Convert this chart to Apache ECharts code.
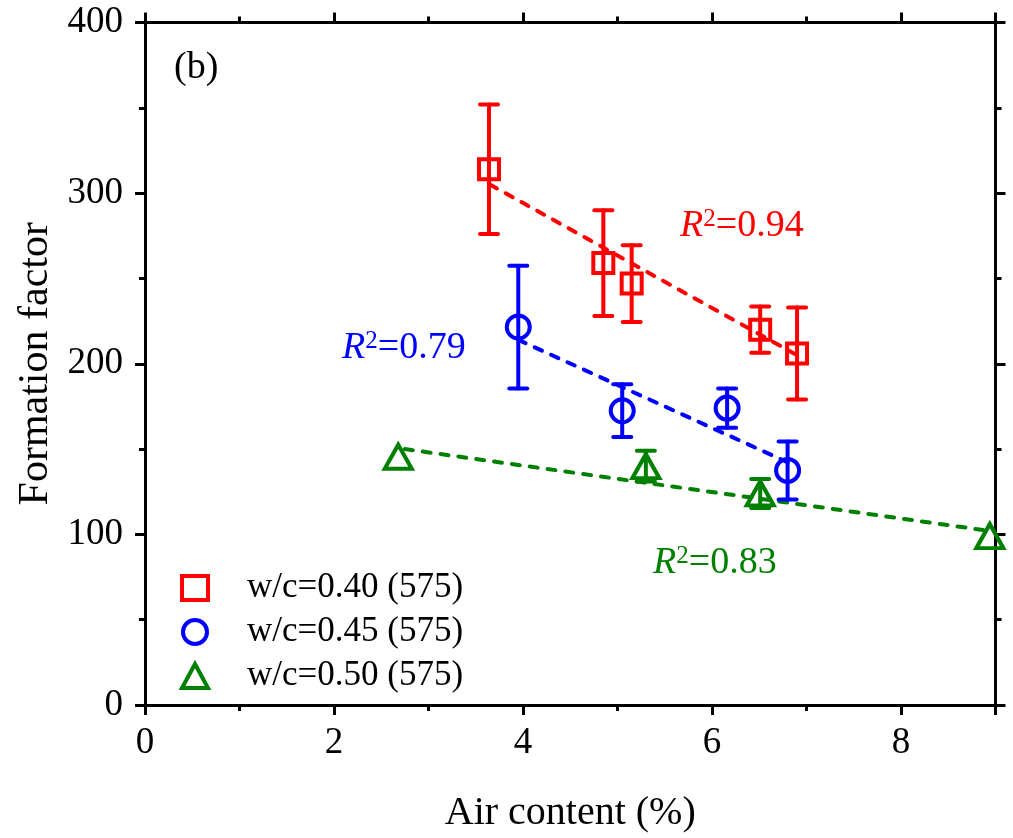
<!DOCTYPE html>
<html>
<head>
<meta charset="utf-8">
<script src="https://cdn.jsdelivr.net/npm/echarts@6/dist/echarts.min.js"></script>
<style>
html,body{margin:0;padding:0;background:#fff;overflow:hidden;width:1013px;height:838px}
#c{position:absolute;left:0;top:0;width:1013px;height:838px}
</style>
</head>
<body>
<div id="c"></div>
<script>
// ---- data ----
const seriesNames = ['w/c=0.40 (575)', 'w/c=0.45 (575)', 'w/c=0.50 (575)'];
const redX = [3.64, 4.85, 5.15, 6.51, 6.90];
const redY = [314, 259, 247, 220, 206];
const redErr = [38, 31, 22.5, 13.5, 27];
const blueX = [3.95, 5.05, 6.16, 6.80];
const blueY = [221.5, 172.5, 174, 137.5];
const blueErr = [36, 15.5, 11.5, 17];
const greenX = [2.68, 5.30, 6.51, 8.94];
const greenY = [145.5, 140, 124, 99];
const greenErr = [0, 9, 8.5, 0];
const redFitX = [3.65, 6.90];
const redFitY = [305, 205];
const blueFitX = [3.95, 6.81];
const blueFitY = [214, 142];
const greenFitX = [2.75, 8.94];
const greenFitY = [150, 102];
const r2Labels = ['0.94', '0.79', '0.83'];
const xTicks = [0, 2, 4, 6, 8];
const yTicks = [0, 100, 200, 300, 400];

const RED = '#ff0000', BLUE = '#0000ff', GREEN = '#008000';
const FONT = '"Liberation Serif", "Times New Roman", serif';

function pairs(xs, ys) { return xs.map((x, i) => [x, ys[i]]); }

function errSeries(xs, ys, es, color) {
  const d = [];
  xs.forEach((x, i) => { if (es[i] > 0) d.push([x, ys[i] - es[i], ys[i] + es[i]]); });
  return {
    type: 'custom', data: d, z: 3, silent: true,
    encode: { x: 0, y: [1, 2] },
    renderItem: function (params, api) {
      const lo = api.coord([api.value(0), api.value(1)]);
      const hi = api.coord([api.value(0), api.value(2)]);
      const w = 9;
      const st = { stroke: color, lineWidth: 4, lineCap: 'round' };
      return {
        type: 'group', children: [
          { type: 'line', shape: { x1: lo[0], y1: lo[1], x2: hi[0], y2: hi[1] }, style: st },
          { type: 'line', shape: { x1: lo[0] - w, y1: lo[1], x2: lo[0] + w, y2: lo[1] }, style: st },
          { type: 'line', shape: { x1: hi[0] - w, y1: hi[1], x2: hi[0] + w, y2: hi[1] }, style: st }
        ]
      };
    }
  };
}

function fitSeries(xs, ys, color) {
  return {
    type: 'line', data: pairs(xs, ys), showSymbol: false, silent: true, z: 2,
    lineStyle: { color: color, width: 4, type: [8, 10], cap: 'round' }
  };
}

function scatter(name, xs, ys, symbol, size, color) {
  return {
    name: name, type: 'scatter', data: pairs(xs, ys), symbol: symbol, symbolSize: size, z: 4,
    itemStyle: { color: 'rgba(255,255,255,0)', borderColor: color, borderWidth: 4, opacity: 1 }
  };
}

function r2Text(left, top, value, color) {
  return {
    type: 'text', left: left, top: top, style: {
      text: '{i|R}{s|2}{n|=' + value + '}', fill: color,
      rich: {
        i: { fontFamily: FONT, fontStyle: 'italic', fontSize: 38, fill: color, verticalAlign: 'bottom' },
        s: { fontFamily: FONT, fontSize: 25, fill: color, verticalAlign: 'bottom', padding: [0, 0, 13, 0] },
        n: { fontFamily: FONT, fontSize: 38, fill: color, verticalAlign: 'bottom' }
      }
    }
  };
}

const axisCommon = {
  axisLine: { show: true, onZero: false, lineStyle: { color: '#000', width: 3 } },
  axisTick: { show: true, inside: false, length: 10, lineStyle: { color: '#000', width: 3 } },
  minorTick: { show: true, splitNumber: 2, length: 6, lineStyle: { color: '#000', width: 3 } },
  splitLine: { show: false }
};

const chart = echarts.init(document.getElementById('c'), null, { renderer: 'canvas', width: 1013, height: 838 });
const option = {
  backgroundColor: '#fff',
  animation: false,
  textStyle: { fontFamily: FONT },
  grid: { left: 145, width: 850.5, top: 22.5, height: 690.5 },
  xAxis: [
    Object.assign({
      type: 'value', min: 0, max: 9, interval: 2, position: 'bottom',
      name: 'Air content (%)', nameLocation: 'middle', nameGap: 88,
      nameTextStyle: { fontFamily: FONT, fontSize: 40, color: '#000' },
      axisLabel: {
        fontFamily: FONT, fontSize: 37, color: '#000', margin: 20,
        formatter: v => xTicks.indexOf(v) >= 0 ? String(v) : ''
      }
    }, axisCommon),
    Object.assign({
      type: 'value', min: 0, max: 9, interval: 2, position: 'top',
      axisLabel: { show: false }
    }, axisCommon)
  ],
  yAxis: [
    Object.assign({
      type: 'value', min: 0, max: 400, interval: 100, position: 'left',
      name: 'Formation factor', nameLocation: 'middle', nameGap: 76,
      nameTextStyle: { fontFamily: FONT, fontSize: 42, color: '#000' },
      axisLabel: {
        fontFamily: FONT, fontSize: 37, color: '#000', margin: 22,
        formatter: v => yTicks.indexOf(v) >= 0 ? String(v) : ''
      }
    }, axisCommon),
    Object.assign({
      type: 'value', min: 0, max: 400, interval: 100, position: 'right',
      axisLabel: { show: false }
    }, axisCommon)
  ],
  legend: {
    orient: 'vertical', left: 175, top: 565, itemGap: 8,
    itemWidth: 26, itemHeight: 24,
    textStyle: { fontFamily: FONT, fontSize: 35, color: '#000', lineHeight: 36, padding: [0, 0, 0, 34] },
    data: [
      { name: seriesNames[0], icon: 'rect', itemStyle: { color: 'rgba(255,255,255,0)', borderColor: RED, borderWidth: 4 } },
      { name: seriesNames[1], icon: 'circle', itemStyle: { color: 'rgba(255,255,255,0)', borderColor: BLUE, borderWidth: 4 } },
      { name: seriesNames[2], icon: 'triangle', itemStyle: { color: 'rgba(255,255,255,0)', borderColor: GREEN, borderWidth: 4 } }
    ]
  },
  graphic: [
    { type: 'text', left: 174, top: 49, style: { text: '(b)', font: '38px ' + FONT, fill: '#000' } },
    r2Text(680, 207, r2Labels[0], RED),
    r2Text(342, 329, r2Labels[1], BLUE),
    r2Text(653, 544, r2Labels[2], GREEN)
  ],
  series: [
    fitSeries(redFitX, redFitY, RED),
    fitSeries(blueFitX, blueFitY, BLUE),
    fitSeries(greenFitX, greenFitY, GREEN),
    errSeries(redX, redY, redErr, RED),
    errSeries(blueX, blueY, blueErr, BLUE),
    errSeries(greenX, greenY, greenErr, GREEN),
    scatter(seriesNames[0], redX, redY, 'rect', 20, RED),
    scatter(seriesNames[1], blueX, blueY, 'circle', 23, BLUE),
    scatter(seriesNames[2], greenX, greenY, 'triangle', [27, 24], GREEN)
  ]
};
chart.setOption(option);
</script>
</body>
</html>
